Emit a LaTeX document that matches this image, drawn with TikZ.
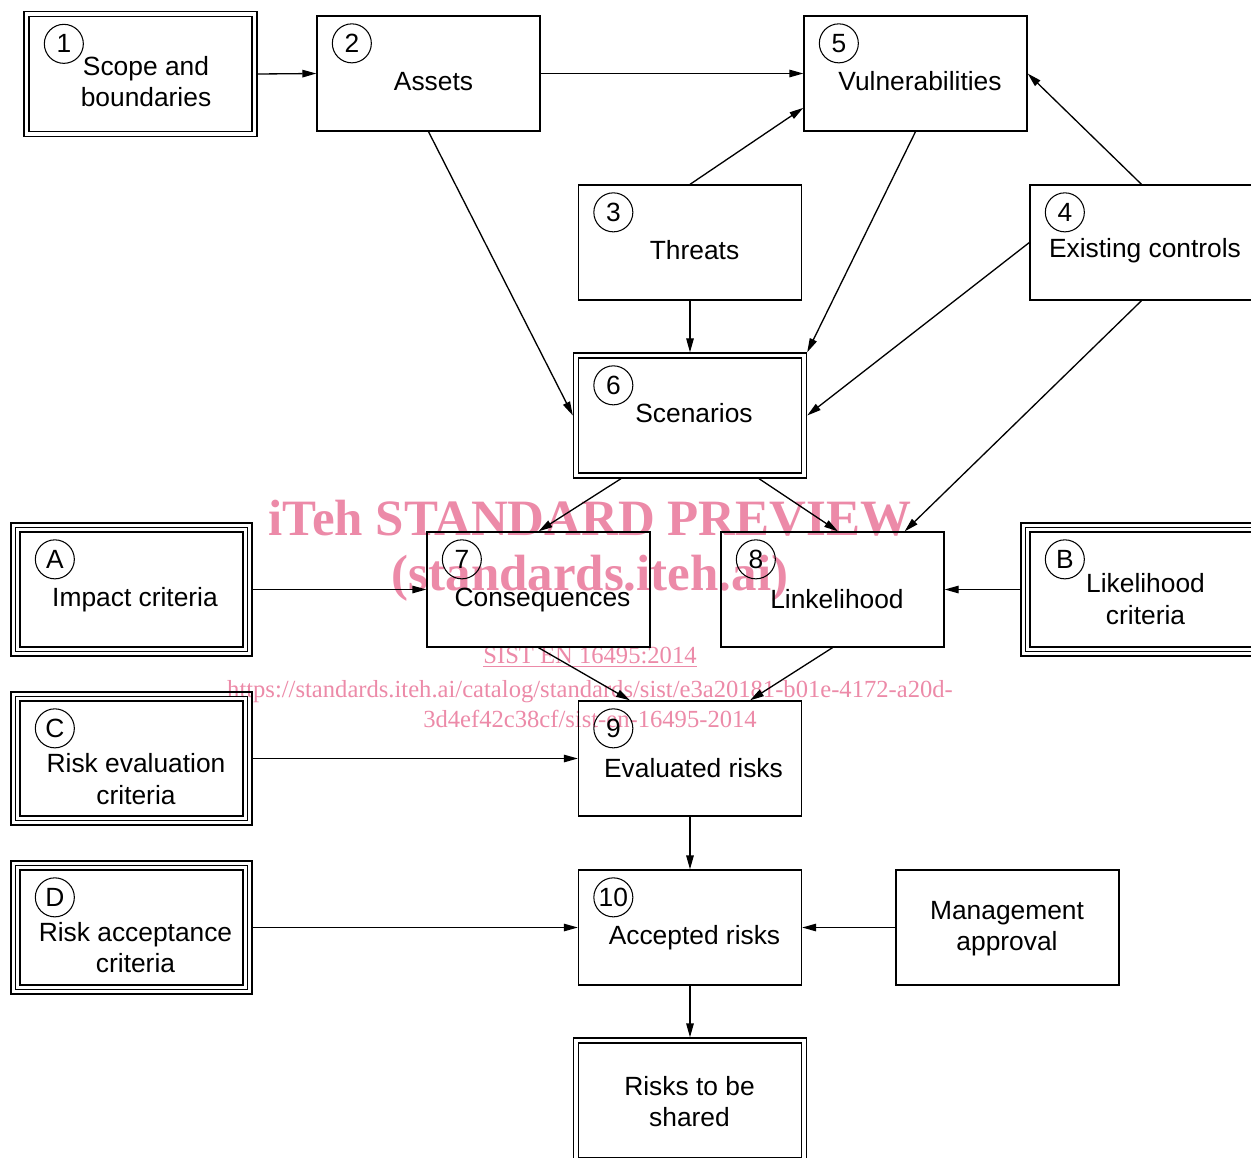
\documentclass[tikz,border=0pt]{standalone}
\usepackage{fontspec}
\setmainfont{Liberation Sans}
\newfontfamily\wmfont{Liberation Serif}
\usepackage{tikz}
\usetikzlibrary{arrows.meta,positioning,fit}
\definecolor{wmpink}{RGB}{236,138,168}

\begin{document}
\begin{tikzpicture}[
    cell/.style={draw, line width=0.75pt, minimum width=4.46cm, minimum height=2.3cm, inner sep=0pt},
    rim/.style={draw, line width=0.75pt, inner sep=#1},
    num/.style={draw, circle, line width=0.6pt, minimum size=0.78cm, inner sep=0pt, font=\fontsize{15}{18}\selectfont},
    txt/.style={align=center, font=\fontsize{15}{18}\selectfont},
    wm/.style={text=wmpink, align=center, font=\wmfont\fontsize{14}{17}\selectfont},
    big/.style={text=wmpink, font=\wmfont\bfseries\fontsize{29}{35}\selectfont},
    arrow/.style={-{Triangle[length=0.28cm,width=0.15cm]}, line width=0.75pt}
]
\useasboundingbox (0,0) rectangle (25.02,-23.14);
\clip (0,0) rectangle (25.02,-23.14);

% watermark, behind the chart
\node[big] (wm1) at (11.80,-10.36) {iTeh STANDARD PREVIEW};
\node[big] (wm2) at (11.80,-11.56) {(standards.iteh.ai)};
\node[wm] (wm3) at (11.80,-13.14) {\underline{SIST EN 16495:2014}};
\node[wm] (wm4) at (11.80,-14.09) {https://standards.iteh.ai/catalog/standards/sist/e3a20181-b01e-4172-a20d-\\3d4ef42c38cf/sist-en-16495-2014};

% top row
\node[cell] (scope) at (2.81,-1.48) {};
\node[rim=0.087cm, fit=(scope)] (scopeF) {};
\node[num] (c1) at ([shift={(0.71,-0.56)}]scope.north west) {1};
\node[txt] (t1) at (2.92,-1.63) {Scope and\\boundaries};

\node[cell] (assets) at (8.57,-1.47) {};
\node[num] (c2) at ([shift={(0.71,-0.56)}]assets.north west) {2};
\node[txt] (t2) at (8.67,-1.63) {Assets};

\node[cell] (vuln) at (18.31,-1.47) {};
\node[num] (c5) at ([shift={(0.71,-0.56)}]vuln.north west) {5};
\node[txt] (t5) at (18.40,-1.62) {Vulnerabilities};

\node[cell] (threats) at (13.80,-4.85) {};
\node[num] (c3) at ([shift={(0.71,-0.56)}]threats.north west) {3};
\node[txt] (t3) at (13.89,-5.00) {Threats};

\node[cell] (controls) at (22.83,-4.85) {};
\node[num] (c4) at ([shift={(0.71,-0.56)}]controls.north west) {4};
\node[txt] (t4) at (22.90,-5.02) {Existing controls};

\node[cell] (scen) at (13.80,-8.31) {};
\node[rim=0.087cm, fit=(scen)] (scenF) {};
\node[num] (c6) at ([shift={(0.71,-0.56)}]scen.north west) {6};
\node[txt] (t6) at (13.88,-8.26) {Scenarios};

% criteria and analysis
\node[cell] (impact) at (2.63,-11.79) {};
\node[rim=0.077cm, fit=(impact)] (impactF) {};
\node[rim=0.077cm, fit=(impactF)] (impactG) {};
\node[num] (cA) at ([shift={(0.71,-0.56)}]impact.north west) {A};
\node[txt] (tA) at (2.70,-12.00) {Impact criteria};

\node[cell] (conseq) at (10.77,-11.79) {};
\node[num] (c7) at ([shift={(0.71,-0.56)}]conseq.north west) {7};
\node[txt] (t7) at (10.85,-12.00) {Consequences};

\node[cell] (likeli) at (16.65,-11.79) {};
\node[num] (c8) at ([shift={(0.71,-0.56)}]likeli.north west) {8};
\node[txt] (t8) at (16.74,-11.98) {Linkelihood};

\node[cell] (likcrit) at (22.83,-11.79) {};
\node[rim=0.077cm, fit=(likcrit)] (likcritF) {};
\node[rim=0.077cm, fit=(likcritF)] (likcritG) {};
\node[num] (cB) at ([shift={(0.71,-0.56)}]likcrit.north west) {B};
\node[txt] (tB) at (22.91,-11.98) {Likelihood\\criteria};

\node[cell] (evalcrit) at (2.63,-15.17) {};
\node[rim=0.077cm, fit=(evalcrit)] (evalcritF) {};
\node[rim=0.077cm, fit=(evalcritF)] (evalcritG) {};
\node[num] (cC) at ([shift={(0.71,-0.56)}]evalcrit.north west) {C};
\node[txt] (tC) at (2.72,-15.58) {Risk evaluation\\criteria};

\node[cell] (evalrisk) at (13.80,-15.17) {};
\node[num] (c9) at ([shift={(0.71,-0.56)}]evalrisk.north west) {9};
\node[txt] (t9) at (13.87,-15.36) {Evaluated risks};

\node[cell] (acccrit) at (2.63,-18.55) {};
\node[rim=0.077cm, fit=(acccrit)] (acccritF) {};
\node[rim=0.077cm, fit=(acccritF)] (acccritG) {};
\node[num] (cD) at ([shift={(0.71,-0.56)}]acccrit.north west) {D};
\node[txt] (tD) at (2.71,-18.95) {Risk acceptance\\criteria};

\node[cell] (accrisk) at (13.80,-18.55) {};
\node[num] (c10) at ([shift={(0.71,-0.56)}]accrisk.north west) {10};
\node[txt] (t10) at (13.89,-18.76) {Accepted risks};

\node[cell] (mgmt) at (20.15,-18.55) {};
\node[txt] (tM) at (20.14,-18.57) {Management\\approval};

\node[cell] (shared) at (13.80,-22.01) {};
\node[rim=0.087cm, fit=(shared)] (sharedF) {};
\node[txt] (tS) at (13.79,-22.03) {Risks to be\\shared};

% connectors
\draw[arrow] (scopeF.east) -- (assets.west);
\draw[arrow] (assets.east) -- (vuln.west);
\draw[arrow] (threats.north) -- (vuln.197);
\draw[arrow] (controls.north) -- (vuln.east);
\draw[arrow] (assets.south) -- (scenF.west);
\draw[arrow] (threats.south) -- (scenF.north);
\draw[arrow] (vuln.south) -- (scenF.north east);
\draw[arrow] (controls.west) -- (scenF.east);
\draw[arrow] ([xshift=-1.38cm]scenF.south) -- (conseq.north);
\draw[arrow] ([xshift=1.38cm]scenF.south) -- ([xshift=0.11cm]likeli.north);
\draw[arrow] (controls.south) -- ([xshift=-0.8cm]likeli.north east);
\draw[arrow] (impactG.east) -- (conseq.west);
\draw[arrow] (likcritG.west) -- (likeli.east);
\draw[arrow] (conseq.south) -- ([xshift=-1.2cm]evalrisk.north);
\draw[arrow] (likeli.south) -- ([xshift=1.2cm]evalrisk.north);
\draw[arrow] (evalcritG.east) -- (evalrisk.west);
\draw[arrow] (evalrisk.south) -- (accrisk.north);
\draw[arrow] (acccritG.east) -- (accrisk.west);
\draw[arrow] (mgmt.west) -- (accrisk.east);
\draw[arrow] (accrisk.south) -- (sharedF.north);
\end{tikzpicture}
\end{document}
